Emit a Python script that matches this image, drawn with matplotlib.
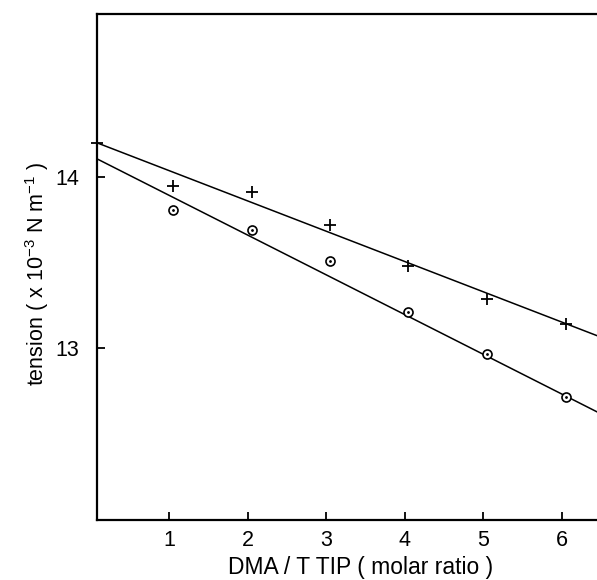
import numpy as np
import matplotlib
matplotlib.use("Agg")
import matplotlib.pyplot as plt

plt.rcParams['font.family'] = ['Liberation Sans', 'DejaVu Sans']
plt.rcParams['mathtext.default'] = 'regular'

# surface tension vs DMA / TTIP molar ratio
ratio = [1.05, 2.05, 3.05, 4.04, 5.05, 6.06]
tension_plus = [13.95, 13.91, 13.72, 13.48, 13.29, 13.14]
tension_circ = [13.81, 13.69, 13.51, 13.21, 12.97, 12.72]

# point sitting on the left axis
start_x = [0.08]
start_plus = [14.2]

# fitted lines (end points)
fit_x = [0.0, 6.5]
fit_plus = [14.213, 13.066]
fit_circ = [14.124, 12.619]

xticks = [1, 2, 3, 4, 5, 6]
yticks = [13, 14]

fig = plt.figure(figsize=(5.97, 5.80), dpi=100)
ax = fig.add_axes([0.1625, 0.1034, 0.8375, 0.8725])

ax.plot(fit_x, fit_plus, color='black', lw=1.1)
ax.plot(fit_x, fit_circ, color='black', lw=1.1)

ax.plot(ratio, tension_plus, ls='none', marker='+', ms=8, mew=1.3, color='black')
ax.plot(start_x, start_plus, ls='none', marker='+', ms=8, mew=1.3, color='black', clip_on=False)
ax.plot(ratio, tension_circ, ls='none', marker='o', ms=6.5, mew=1.2,
        mfc='white', mec='black', zorder=3)
ax.plot(ratio, tension_circ, ls='none', marker='.', ms=2, color='black', zorder=4)

ax.set_xlim(0.08, 6.45)
ax.set_ylim(12.0, 14.95)
ax.set_xticks(xticks)
ax.set_yticks(yticks)
ax.tick_params(direction='in', length=6, width=1.3, labelsize=15.5)
ax.tick_params(axis='y', pad=13)
ax.tick_params(axis='x', pad=7)

ax.spines['right'].set_visible(False)
for s in ['left', 'bottom', 'top']:
    ax.spines[s].set_linewidth(1.6)

ax.set_xlabel('DMA / T TIP ( molar ratio )', fontsize=16.5)
ax.xaxis.set_label_coords(0.527, -0.072)
fig.text(0.062, 1 - 273.5 / 580, r'tension ( x 10$^{-3}$ N m$^{-1}$ )', rotation=90,
         fontsize=15.5, ha='center', va='center')

fig.savefig('out.png', dpi=100)
